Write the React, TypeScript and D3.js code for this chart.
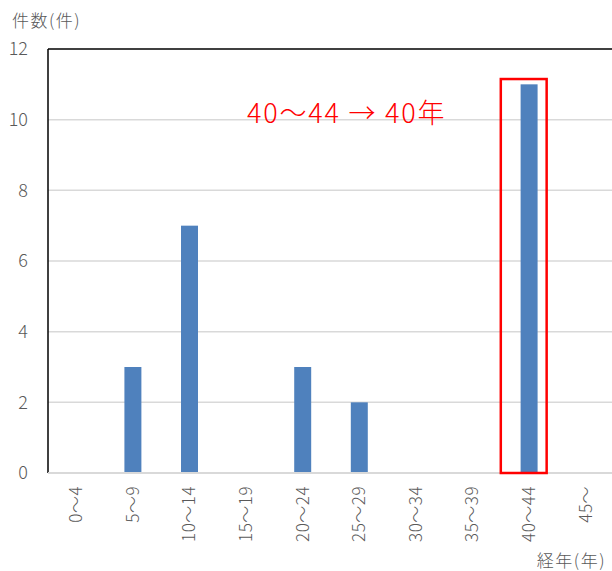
import React from "react";
import * as d3 from "d3";

const categories = ["0～4", "5～9", "10～14", "15～19", "20～24", "25～29", "30～34", "35～39", "40～44", "45～"];
const counts = [0, 3, 7, 0, 3, 2, 0, 0, 11, 0];
const yTicks = [0, 2, 4, 6, 8, 10, 12];
const yTitle = "件数(件)";
const xTitle = "経年(年)";
const annotationText = "40～44 → 40年";
const highlightCategory = "40～44";
const highlightTop = 11.15;

const W = 612;
const H = 571;
const left = 48;
const right = 614;
const top = 49;
const bottom = 473;
const FONT = "'Noto Sans CJK JP', 'Noto Sans', sans-serif";

export default function App() {
  const x = d3.scaleBand<string>().domain(categories).range([left, right]).paddingInner(0).paddingOuter(0);
  const y = d3.scaleLinear().domain([0, 12]).range([bottom, top]);
  const step = x.step();
  const barW = step * 0.3;
  const hx = x(highlightCategory)!;

  return (
    <svg width={W} height={H} style={{ position: "absolute", left: 0, top: 0, background: "#fff" }} fontFamily={FONT} fontWeight={300}>
      <rect x={0} y={0} width={W} height={H} fill="#fff" />
      {yTicks.filter((t) => t > 0 && t < 12).map((t) => (
        <line key={t} x1={left} x2={W} y1={y(t)} y2={y(t)} stroke="#d9d9d9" strokeWidth={1.5} />
      ))}
      <line x1={left} x2={W} y1={y(12)} y2={y(12)} stroke="#000" strokeWidth={1.5} />
      <line x1={left} x2={left} y1={y(12)} y2={y(0)} stroke="#000" strokeWidth={1.5} />
      {counts.map((v, i) => (
        v > 0 ? (
          <rect key={i} x={x(categories[i])! + step / 2 - barW / 2} y={y(v)} width={barW} height={y(0) - y(v)} fill="#4f81bd" />
        ) : null
      ))}
      <line x1={left} x2={W} y1={y(0)} y2={y(0)} stroke="#d9d9d9" strokeWidth={2} />
      {yTicks.map((t) => (
        <text key={t} x={28} y={y(t)} dy="0.35em" textAnchor="end" fontSize={18} fill="#595959">{t}</text>
      ))}
      {categories.map((c) => (
        <text key={c} transform={`translate(${x(c)! + step / 2},486) rotate(-90)`} dy="0.35em" textAnchor="end" fontSize={17} letterSpacing={0.5} fill="#595959">{c}</text>
      ))}
      <text x={12} y={27} fontSize={17} letterSpacing={1.5} fill="#595959">{yTitle}</text>
      <text x={606} y={567} textAnchor="end" fontSize={17} letterSpacing={1.5} fill="#595959">{xTitle}</text>
      <rect x={hx} y={y(highlightTop)} width={step * 0.81} height={y(0) - y(highlightTop)} fill="none" stroke="#ff0000" strokeWidth={2.5} />
      <text x={247} y={123} fontSize={27} letterSpacing={1.8} fill="#ff0000">{annotationText}</text>
    </svg>
  );
}
